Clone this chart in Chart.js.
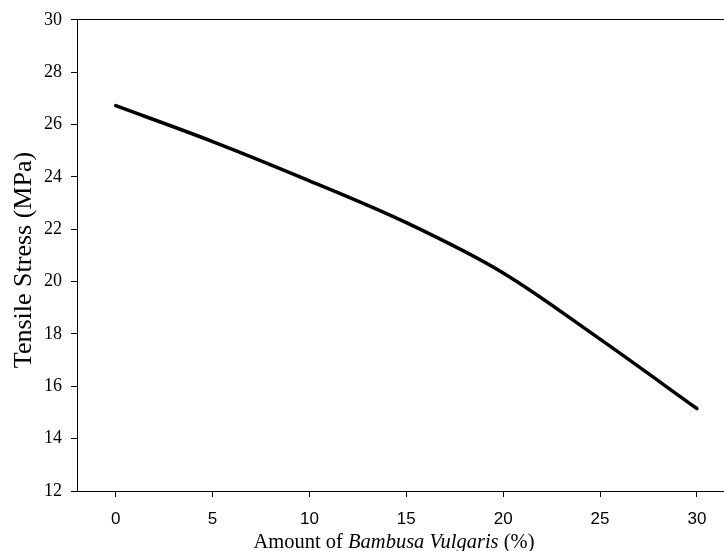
<!DOCTYPE html>
<html lang="en">
<head>
    <meta charset="UTF-8">
    <title>Tensile Stress vs Bambusa Vulgaris</title>
    <style>
        body {
            margin: 0;
            padding: 0;
            background: white;
            overflow: hidden;
        }
        .chart-box {
            position: relative;
            width: 724px;
            height: 551px;
        }
    </style>
</head>
<body>
    <div class="chart-box">
        <canvas id="myChart" width="724" height="551"></canvas>
    </div>

    <script src="https://cdn.jsdelivr.net/npm/chart.js"></script>
    <script>
        // Values
        const amount = [0, 5, 10, 15, 20, 25, 30];
        const stress = [26.72, 25.35, 23.85, 22.25, 20.33, 17.8, 15.15];
        const xTicks = [0, 5, 10, 15, 20, 25, 30];
        const yTicks = [12, 14, 16, 18, 20, 22, 24, 26, 28, 30];

        const serif = '"Liberation Serif", "Times New Roman", serif';
        const sans = '"Liberation Sans", Arial, sans-serif';

        // axis titles drawn by hand (x title has an italic part)
        const titlesPlugin = {
            id: 'axisTitles',
            afterDraw(chart) {
                const ctx = chart.ctx;
                const parts = [
                    { text: 'Amount of ', font: '20.5px ' + serif },
                    { text: 'Bambusa Vulgaris', font: 'italic 20.5px ' + serif },
                    { text: ' (%)', font: '20.5px ' + serif }
                ];
                ctx.save();
                let total = 0;
                parts.forEach(p => { ctx.font = p.font; p.w = ctx.measureText(p.text).width; total += p.w; });
                let x = 394 - total / 2;
                ctx.fillStyle = '#000';
                ctx.textBaseline = 'alphabetic';
                ctx.textAlign = 'left';
                parts.forEach(p => {
                    ctx.font = p.font;
                    ctx.fillText(p.text, x, 548);
                    x += p.w;
                });

                // y title, rotated
                ctx.translate(31, 260);
                ctx.rotate(-Math.PI / 2);
                ctx.textAlign = 'center';
                ctx.font = '26px ' + serif;
                ctx.fillText('Tensile Stress (MPa)', 0, 0);
                ctx.restore();
            }
        };

        const ctx = document.getElementById('myChart').getContext('2d');
        new Chart(ctx, {
            type: 'line',
            data: {
                datasets: [{
                    data: amount.map((a, i) => ({ x: a, y: stress[i] })),
                    borderColor: '#000',
                    borderWidth: 3.5,
                    borderCapStyle: 'round',
                    pointRadius: 0,
                    fill: false,
                    cubicInterpolationMode: 'monotone'
                }]
            },
            options: {
                responsive: false,
                animation: false,
                layout: { padding: { left: 0, right: 0, top: 0, bottom: 0 } },
                plugins: {
                    legend: { display: false },
                    tooltip: { enabled: false }
                },
                scales: {
                    x: {
                        type: 'linear',
                        position: 'bottom',
                        min: -2,
                        max: 31.4,
                        afterBuildTicks: scale => { scale.ticks = xTicks.map(v => ({ value: v })); },
                        afterFit: scale => { scale.height = 60; },
                        grid: { drawOnChartArea: false, drawTicks: true, tickLength: 6, color: '#000' },
                        border: { display: true, color: '#000', width: 1 },
                        ticks: { color: '#000', padding: 12, font: { family: sans, size: 17 }, maxRotation: 0 }
                    },
                    xTop: {
                        type: 'linear',
                        position: 'top',
                        min: -2,
                        max: 31.4,
                        afterFit: scale => { scale.height = 18; },
                        grid: { display: false },
                        border: { display: true, color: '#000', width: 1 },
                        ticks: { display: false }
                    },
                    y: {
                        min: 12,
                        max: 30,
                        afterBuildTicks: scale => { scale.ticks = yTicks.map(v => ({ value: v })); },
                        afterFit: scale => { scale.width = 77; },
                        grid: { drawOnChartArea: false, drawTicks: true, tickLength: 6, color: '#000' },
                        border: { display: true, color: '#000', width: 1 },
                        ticks: { color: '#000', padding: 9, font: { family: serif, size: 18 } }
                    }
                }
            },
            plugins: [titlesPlugin]
        });
    </script>
</body>
</html>
